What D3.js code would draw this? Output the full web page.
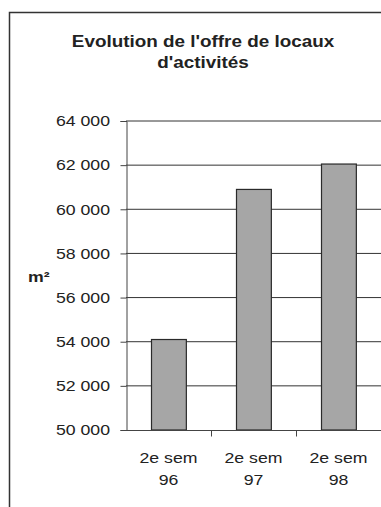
<!DOCTYPE html>
<html>
<head>
<meta charset="utf-8">
<script src="https://cdn.jsdelivr.net/npm/d3@7"></script>
<style>
  html, body { margin: 0; padding: 0; background: #fff; }
  svg { display: block; }
  text { font-family: "Liberation Sans", Arial, sans-serif; fill: #222; }
</style>
</head>
<body>
<div id="chart"></div>
<script>
// Surface offered for business premises, second half of each year (m²)
const categories = [["2e sem", "96"], ["2e sem", "97"], ["2e sem", "98"]];
const values = [54100, 60900, 62050];
const yTicks = [50000, 52000, 54000, 56000, 58000, 60000, 62000, 64000];
const titleLines = ["Evolution de l'offre de locaux", "d'activités"];
const yLabel = "m²";

const W = 381, H = 507;
const plot = { left: 126, right: 381, top: 121, bottom: 430 };
// Glyphs are drawn slightly wide (horizontal stretch of the text)
const SX = 1.18;

const svg = d3.select("#chart").append("svg")
  .attr("width", W).attr("height", H);

// Outer chart frame (extends past the visible window)
svg.append("rect")
  .attr("x", 9.5).attr("y", 12.5)
  .attr("width", W + 20).attr("height", H + 20)
  .attr("fill", "none").attr("stroke", "#333").attr("stroke-width", 1.5);

// Title
svg.append("text")
  .attr("transform", `translate(203,47) scale(${SX},1)`)
  .attr("text-anchor", "middle")
  .style("font-weight", "bold").style("font-size", "16px")
  .selectAll("tspan").data(titleLines).join("tspan")
  .attr("x", 0).attr("y", (d, i) => i * 21.5)
  .text(d => d);

const x = d3.scaleBand()
  .domain(categories.map((d, i) => i))
  .range([plot.left, plot.right])
  .paddingInner(0.59).paddingOuter(0.295);

const y = d3.scaleLinear()
  .domain([50000, 64000])
  .range([plot.bottom, plot.top]);

const fmt = v => d3.format(",")(v).replace(/,/g, " ");

// Horizontal gridlines
svg.append("g")
  .selectAll("line").data(yTicks.filter(t => t !== 50000)).join("line")
  .attr("x1", plot.left).attr("x2", plot.right)
  .attr("y1", d => y(d)).attr("y2", d => y(d))
  .attr("stroke", "#333").attr("stroke-width", 1);

// Bars
svg.append("g")
  .selectAll("rect").data(values).join("rect")
  .attr("x", (d, i) => Math.round(x(i)) + 0.5)
  .attr("y", d => y(d))
  .attr("width", x.bandwidth())
  .attr("height", d => y(50000) - y(d))
  .attr("fill", "#a6a6a6").attr("stroke", "#2a2a2a").attr("stroke-width", 1.2);

// Y axis
const yAxis = svg.append("g")
  .attr("transform", `translate(${plot.left + 0.5},0)`)
  .call(d3.axisLeft(y).tickValues(yTicks).tickFormat(fmt).tickSize(6).tickPadding(10));
yAxis.select(".domain").attr("stroke", "#444");
yAxis.selectAll(".tick line").attr("stroke", "#444");
yAxis.selectAll(".tick text")
  .style("font-size", "15px")
  .attr("x", -16.5 / SX)
  .attr("transform", `scale(${SX},1)`)
  .attr("fill", "#222").attr("font-family", null);

// X axis: baseline with ticks at category boundaries
const xBase = Math.round(y(50000)) + 0.5;
svg.append("line")
  .attr("x1", plot.left).attr("x2", plot.right)
  .attr("y1", xBase).attr("y2", xBase)
  .attr("stroke", "#444");
const step = x.step();
svg.append("g")
  .selectAll("line").data(d3.range(1, categories.length)).join("line")
  .attr("x1", i => Math.round(plot.left + i * step) + 0.5)
  .attr("x2", i => Math.round(plot.left + i * step) + 0.5)
  .attr("y1", xBase).attr("y2", xBase + 6)
  .attr("stroke", "#444");

// Category labels (two lines each)
svg.append("g")
  .selectAll("text").data(categories).join("text")
  .attr("text-anchor", "middle")
  .style("font-size", "15px")
  .attr("transform", (d, i) => `translate(${x(i) + x.bandwidth() / 2},463) scale(${SX},1)`)
  .each(function (d) {
    d3.select(this).selectAll("tspan").data(d).join("tspan")
      .attr("x", 0).attr("y", (t, j) => j * 22)
      .text(t => t);
  });

// Y axis unit label
svg.append("text")
  .attr("transform", `translate(28,282) scale(${SX},1)`)
  .style("font-weight", "bold").style("font-size", "15px")
  .text(yLabel);
</script>
</body>
</html>
